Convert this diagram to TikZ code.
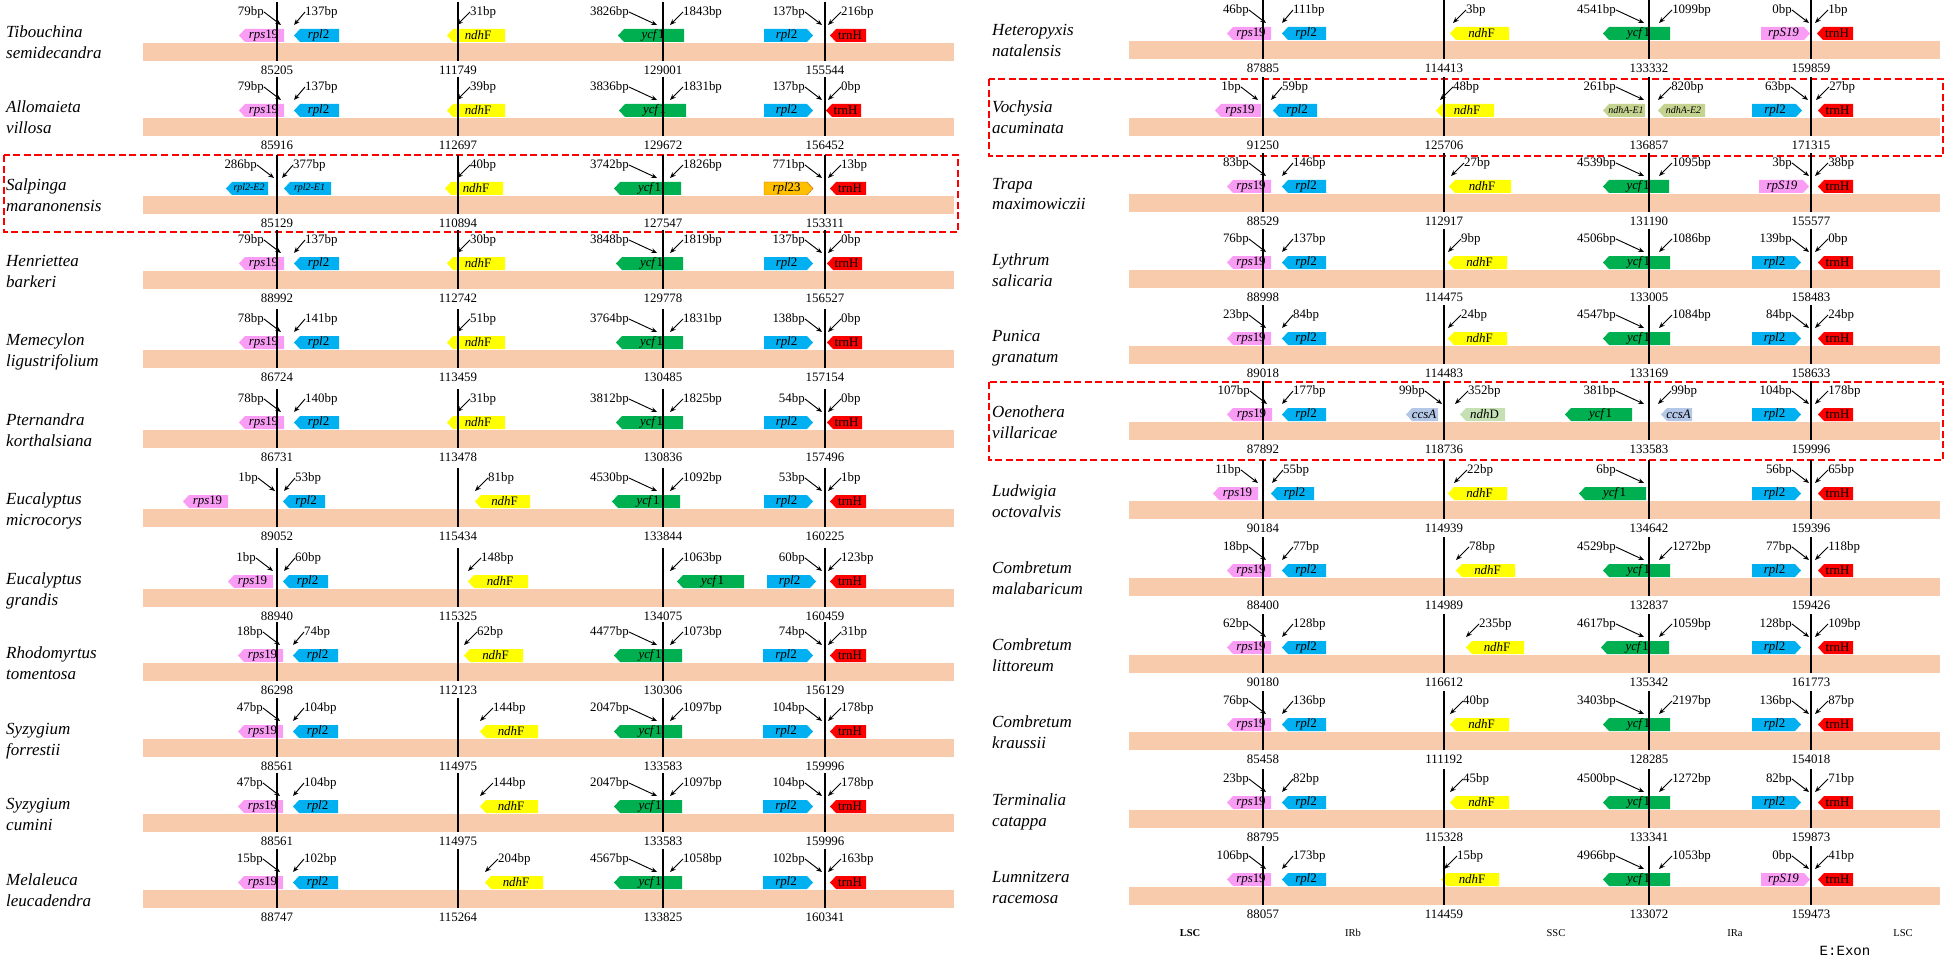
\documentclass[tikz,border=0pt]{standalone}
\usepackage{fontspec}
\setmainfont{Liberation Serif}
\newfontfamily\exonfont{Liberation Mono}
\usetikzlibrary{arrows.meta}

\definecolor{barc}{HTML}{F8CBAD}
\definecolor{rpsc}{HTML}{F99CF4}
\definecolor{rplc}{HTML}{00B0F0}
\definecolor{ndhc}{HTML}{FFFF00}
\definecolor{ycfc}{HTML}{00B050}
\definecolor{trnc}{HTML}{FF0000}
\definecolor{rplxc}{HTML}{FFC000}
\definecolor{ndhac}{HTML}{C4D38F}
\definecolor{ccsc}{HTML}{B4C7E7}
\definecolor{ndhdc}{HTML}{C5E0B4}

\tikzset{
  sp/.style={anchor=base west, inner sep=0pt, font=\fontsize{14.5}{17}\selectfont\itshape},
  num/.style={inner sep=0pt, font=\fontsize{11}{13}\selectfont},
  bplab/.style={inner sep=0pt, font=\fontsize{11}{13}\selectfont},
  glab/.style={inner sep=0pt, font=\fontsize{11}{13}\selectfont},
  smallglab/.style={inner sep=0pt, font=\fontsize{8.5}{10}\selectfont},
  bparr/.style={-{Stealth[length=5pt,width=4pt]}, line width=0.8pt},
  jline/.style={line width=1.7pt},
  hilite/.style={draw=red, line width=1.3pt, dash pattern=on 6pt off 3pt},
  region/.style={inner sep=0pt, font=\fontsize{9}{11}\selectfont},
}

\newcounter{nid}
% gene box pointing left / right: colour, x from, x to, text
\newcommand{\geneL}[5][glab]{\stepcounter{nid}%
  \fill[#2] (#3,35.5) -- (#3+6,29) -- (#4,29) -- (#4,42) -- (#3+6,42) -- cycle;
  \node[#1] (g\thenid) at ({(#3+#4)/2+2},35.5) {#5};}
\newcommand{\geneR}[5][glab]{\stepcounter{nid}%
  \fill[#2] (#3,29) -- (#4-6,29) -- (#4,35.5) -- (#4-6,42) -- (#3,42) -- cycle;
  \node[#1] (g\thenid) at ({(#3+#4)/2-2},35.5) {#5};}
\newcommand{\rps}[2]{\geneL{rpsc}{#1}{#2}{\textit{rps}19}}
\newcommand{\rpl}[2]{\geneL{rplc}{#1}{#2}{\textit{rpl}2}}
\newcommand{\rplr}[2]{\geneR{rplc}{#1}{#2}{\textit{rpl}2}}
\newcommand{\rpsr}[2]{\geneR{rpsc}{#1}{#2}{\textit{rpS19}}}
\newcommand{\ndh}[2]{\geneL{ndhc}{#1}{#2}{\textit{ndh}F}}
\newcommand{\ycf}[2]{\geneL{ycfc}{#1}{#2}{\textit{ycf}1}}
\newcommand{\trn}[2]{\geneL{trnc}{#1}{#2}{trnH}}
% bp label left / right of the arrow tip
\newcommand{\bpl}[3][17]{\stepcounter{nid}%
  \node[bplab, anchor=east] (b\thenid) at (#3-#1,12) {#2};
  \coordinate (t\thenid) at (#3,25);
  \draw[bparr] (b\thenid.east) -- (t\thenid);}
\newcommand{\bpr}[3][13]{\stepcounter{nid}%
  \node[bplab, anchor=west] (b\thenid) at (#3+#1,12) {#2};
  \coordinate (t\thenid) at (#3,25);
  \draw[bparr] (b\thenid.west) -- (t\thenid);}
% bar, junction lines, positions and species name of one genome
\newcommand{\genome}[6]{\stepcounter{nid}%
  \fill[barc] (143,43) rectangle (954,61);
  \node[sp] (s\thenid) at (6,38) {#1};
  \node[sp] (s\thenid b) at (6,59) {#2};
  \foreach \x/\n in {277/#3,458/#4,663/#5,825/#6}{
    \draw[jline] (\x,2) -- (\x,61);
    \node[num] (p\thenid-\x) at (\x,70) {\n};}}

\begin{document}
\begin{tikzpicture}[x=0.03cm, y=-0.03cm]
\useasboundingbox (0,0) rectangle (1946,958);

% left panel
\begin{scope}
\begin{scope}[shift={(0,0)}]
\rps{239}{284}\rpl{294}{339}\ndh{447}{505}\ycf{618}{684}\rplr{764}{813}\trn{830}{866}
\bpl{79bp}{281}\bpr[11]{137bp}{294}\bpr{31bp}{457}\bpl[28]{3826bp}{657}\bpr{1843bp}{670}\bpl{137bp}{822}\bpr{216bp}{828}
\genome{Tibouchina}{semidecandra}{85205}{111749}{129001}{155544}
\end{scope}
\begin{scope}[shift={(0,75)}]
\rps{239}{284}\rpl{294}{339}\ndh{447}{505}\ycf{619}{686}\rplr{764}{813}\trn{826}{861}
\bpl{79bp}{281}\bpr[11]{137bp}{294}\bpr{39bp}{457}\bpl[28]{3836bp}{657}\bpr{1831bp}{670}\bpl{137bp}{822}\bpr{0bp}{828}
\genome{Allomaieta}{villosa}{85916}{112697}{129672}{156452}
\end{scope}
\begin{scope}[shift={(0,153)}]
\draw[hilite] (4,2) rectangle (958,79);
\geneL[smallglab]{rplc}{226}{268}{\textit{rpl2-E2}}\geneL[smallglab]{rplc}{284}{331}{\textit{rpl2-E1}}
\ndh{445}{503}\ycf{614}{681}\geneR{rplxc, draw=orange!80!black}{764}{813}{\textit{rpl}23}\trn{830}{866}
\bpl{286bp}{274}\bpr[11]{377bp}{282}\bpr{40bp}{457}\bpl[28]{3742bp}{657}\bpr{1826bp}{670}\bpl{771bp}{822}\bpr{13bp}{828}
\genome{Salpinga}{maranonensis}{85129}{110894}{127547}{153311}
\end{scope}
\begin{scope}[shift={(0,228)}]
\rps{239}{284}\rpl{294}{339}\ndh{447}{505}\ycf{616}{683}\rplr{764}{813}\trn{827}{862}
\bpl{79bp}{281}\bpr[11]{137bp}{294}\bpr{30bp}{457}\bpl[28]{3848bp}{657}\bpr{1819bp}{670}\bpl{137bp}{822}\bpr{0bp}{828}
\genome{Henriettea}{barkeri}{88992}{112742}{129778}{156527}
\end{scope}
\begin{scope}[shift={(0,307)}]
\rps{239}{284}\rpl{294}{339}\ndh{447}{505}\ycf{616}{683}\rplr{764}{813}\trn{827}{862}
\bpl{78bp}{281}\bpr[11]{141bp}{294}\bpr{51bp}{457}\bpl[28]{3764bp}{657}\bpr{1831bp}{670}\bpl{138bp}{822}\bpr{0bp}{828}
\genome{Memecylon}{ligustrifolium}{86724}{113459}{130485}{157154}
\end{scope}
\begin{scope}[shift={(0,387)}]
\rps{239}{284}\rpl{294}{339}\ndh{447}{505}\ycf{616}{683}\rplr{764}{813}\trn{827}{862}
\bpl{78bp}{281}\bpr[11]{140bp}{294}\bpr{31bp}{457}\bpl[28]{3812bp}{657}\bpr{1825bp}{670}\bpl{54bp}{822}\bpr{0bp}{828}
\genome{Pternandra}{korthalsiana}{86731}{113478}{130836}{157496}
\end{scope}
\begin{scope}[shift={(0,466)}]
\rps{183}{228}\rpl{283}{325}\ndh{475}{530}\ycf{612}{680}\rplr{764}{813}\trn{830}{866}
\bpl{1bp}{275}\bpr[11]{53bp}{284}\bpr{81bp}{475}\bpl[28]{4530bp}{657}\bpr{1092bp}{670}\bpl{53bp}{822}\bpr{1bp}{828}
\genome{Eucalyptus}{microcorys}{89052}{115434}{133844}{160225}
\end{scope}
\begin{scope}[shift={(0,546)}]
\rps{228}{273}\rpl{283}{328}\ndh{468}{528}\ycf{677}{744}\rplr{767}{816}\trn{830}{866}
\bpl{1bp}{273}\bpr[11]{60bp}{284}\bpr{148bp}{468}\bpr{1063bp}{670}\bpl{60bp}{822}\bpr{123bp}{828}
\genome{Eucalyptus}{grandis}{88940}{115325}{134075}{160459}
\end{scope}
\begin{scope}[shift={(0,620)}]
\rps{238}{283}\rpl{293}{338}\ndh{464}{523}\ycf{614}{682}\rplr{763}{813}\trn{830}{866}
\bpl{18bp}{280}\bpr[11]{74bp}{293}\bpr{62bp}{464}\bpl[28]{4477bp}{657}\bpr{1073bp}{670}\bpl{74bp}{822}\bpr{31bp}{828}
\genome{Rhodomyrtus}{tomentosa}{86298}{112123}{130306}{156129}
\end{scope}
\begin{scope}[shift={(0,696)}]
\rps{238}{283}\rpl{293}{338}\ndh{480}{538}\ycf{614}{682}\rplr{763}{813}\trn{830}{866}
\bpl{47bp}{280}\bpr[11]{104bp}{293}\bpr{144bp}{480}\bpl[28]{2047bp}{657}\bpr{1097bp}{670}\bpl{104bp}{822}\bpr{178bp}{828}
\genome{Syzygium}{forrestii}{88561}{114975}{133583}{159996}
\end{scope}
\begin{scope}[shift={(0,771)}]
\rps{238}{283}\rpl{293}{338}\ndh{480}{538}\ycf{614}{682}\rplr{763}{813}\trn{830}{866}
\bpl{47bp}{280}\bpr[11]{104bp}{293}\bpr{144bp}{480}\bpl[28]{2047bp}{657}\bpr{1097bp}{670}\bpl{104bp}{822}\bpr{178bp}{828}
\genome{Syzygium}{cumini}{88561}{114975}{133583}{159996}
\end{scope}
\begin{scope}[shift={(0,847)}]
\rps{238}{283}\rpl{293}{338}\ndh{485}{543}\ycf{614}{682}\rplr{763}{813}\trn{830}{866}
\bpl{15bp}{280}\bpr[11]{102bp}{293}\bpr{204bp}{485}\bpl[28]{4567bp}{657}\bpr{1058bp}{670}\bpl{102bp}{822}\bpr{163bp}{828}
\genome{Melaleuca}{leucadendra}{88747}{115264}{133825}{160341}
\end{scope}
\end{scope}

% right panel
\begin{scope}[shift={(986,0)}]
\begin{scope}[shift={(0,-2)}]
\rps{241}{285}\rpl{296}{340}\ndh{464}{523}\ycf{617}{684}\rpsr{775}{824}\trn{831}{867}
\bpl{46bp}{280}\bpr[11]{111bp}{296}\bpr{3bp}{467}\bpl[28]{4541bp}{658}\bpr{1099bp}{673}\bpl{0bp}{823}\bpr{1bp}{829}
\genome{Heteropyxis}{natalensis}{87885}{114413}{133332}{159859}
\end{scope}
\begin{scope}[shift={(0,75)}]
\draw[hilite] (3,4) rectangle (957,81);
\rps{229}{275}\rpl{287}{331}\ndh{450}{508}
\geneL[smallglab]{ndhac}{617}{659}{\textit{ndhA-E1}}\geneL[smallglab]{ndhac}{672}{719}{\textit{ndhA-E2}}
\rplr{766}{816}\trn{832}{867}
\bpl{1bp}{272}\bpr[11]{59bp}{285}\bpr{48bp}{454}\bpl[28]{261bp}{658}\bpr{820bp}{672}\bpl{63bp}{822}\bpr{27bp}{830}
\genome{Vochysia}{acuminata}{91250}{125706}{136857}{171315}
\end{scope}
\begin{scope}[shift={(0,151)}]
\rps{241}{285}\rpl{296}{340}\ndh{463}{525}\ycf{617}{683}\rpsr{773}{823}\trn{832}{867}
\bpl{83bp}{280}\bpr[11]{146bp}{296}\bpr{27bp}{465}\bpl[28]{4539bp}{658}\bpr{1095bp}{673}\bpl{3bp}{823}\bpr{38bp}{829}
\genome{Trapa}{maximowiczii}{88529}{112917}{131190}{155577}
\end{scope}
\begin{scope}[shift={(0,227)}]
\rps{241}{285}\rpl{296}{340}\ndh{462}{521}\ycf{617}{684}\rplr{766}{815}\trn{832}{867}
\bpl{76bp}{280}\bpr[11]{137bp}{296}\bpr{9bp}{462}\bpl[28]{4506bp}{658}\bpr{1086bp}{673}\bpl{139bp}{823}\bpr{0bp}{829}
\genome{Lythrum}{salicaria}{88998}{114475}{133005}{158483}
\end{scope}
\begin{scope}[shift={(0,303)}]
\rps{241}{285}\rpl{296}{340}\ndh{462}{521}\ycf{617}{684}\rplr{766}{815}\trn{832}{867}
\bpl{23bp}{280}\bpr[11]{84bp}{296}\bpr{24bp}{462}\bpl[28]{4547bp}{658}\bpr{1084bp}{673}\bpl{84bp}{823}\bpr{24bp}{829}
\genome{Punica}{granatum}{89018}{114483}{133169}{158633}
\end{scope}
\begin{scope}[shift={(0,379)}]
\draw[hilite] (3,3) rectangle (957,81);
\rps{241}{286}\rpl{296}{340}\geneL{ccsc}{420}{452}{\textit{ccsA}}\geneL{ndhdc}{474}{519}{\textit{ndh}D}
\ycf{579}{646}\geneL{ccsc}{675}{706}{\textit{ccsA}}\rplr{766}{815}\trn{832}{867}
\bpl{107bp}{281}\bpr[11]{177bp}{296}\bpl{99bp}{456}\bpr{352bp}{469}\bpl[28]{381bp}{658}\bpr{99bp}{672}\bpl{104bp}{823}\bpr{178bp}{829}
\genome{Oenothera}{villaricae}{87892}{118736}{133583}{159996}
\end{scope}
\begin{scope}[shift={(0,458)}]
\rps{227}{272}\rpl{285}{328}\ndh{462}{521}\ycf{593}{660}\rplr{766}{815}\trn{832}{867}
\bpl{11bp}{272}\bpr[11]{55bp}{286}\bpr{22bp}{468}\bpl[28]{6bp}{658}\bpl{56bp}{823}\bpr{65bp}{829}
\genome{Ludwigia}{octovalvis}{90184}{114939}{134642}{159396}
\end{scope}
\begin{scope}[shift={(0,535)}]
\rps{241}{285}\rpl{296}{340}\ndh{470}{529}\ycf{617}{684}\rplr{766}{815}\trn{832}{867}
\bpl{18bp}{280}\bpr[11]{77bp}{296}\bpr{78bp}{470}\bpl[28]{4529bp}{658}\bpr{1272bp}{673}\bpl{77bp}{823}\bpr{118bp}{829}
\genome{Combretum}{malabaricum}{88400}{114989}{132837}{159426}
\end{scope}
\begin{scope}[shift={(0,612)}]
\rps{241}{285}\rpl{296}{340}\ndh{480}{538}\ycf{615}{683}\rplr{766}{815}\trn{832}{867}
\bpl{62bp}{280}\bpr[11]{128bp}{296}\bpr{235bp}{480}\bpl[28]{4617bp}{658}\bpr{1059bp}{673}\bpl{128bp}{823}\bpr{109bp}{829}
\genome{Combretum}{littoreum}{90180}{116612}{135342}{161773}
\end{scope}
\begin{scope}[shift={(0,689)}]
\rps{241}{285}\rpl{296}{340}\ndh{464}{523}\ycf{617}{684}\rplr{766}{815}\trn{832}{867}
\bpl{76bp}{280}\bpr[11]{136bp}{296}\bpr{40bp}{464}\bpl[28]{3403bp}{658}\bpr{2197bp}{673}\bpl{136bp}{823}\bpr{87bp}{829}
\genome{Combretum}{kraussii}{85458}{111192}{128285}{154018}
\end{scope}
\begin{scope}[shift={(0,767)}]
\rps{241}{285}\rpl{296}{340}\ndh{464}{523}\ycf{617}{684}\rplr{766}{815}\trn{832}{867}
\bpl{23bp}{280}\bpr[11]{82bp}{296}\bpr{45bp}{464}\bpl[28]{4500bp}{658}\bpr{1272bp}{673}\bpl{82bp}{823}\bpr{71bp}{829}
\genome{Terminalia}{catappa}{88795}{115328}{133341}{159873}
\end{scope}
\begin{scope}[shift={(0,844)}]
\rps{241}{285}\rpl{296}{340}\ndh{455}{513}\ycf{617}{684}\rpsr{775}{824}\trn{832}{867}
\bpl{106bp}{280}\bpr[11]{173bp}{296}\bpr{15bp}{458}\bpl[28]{4966bp}{658}\bpr{1053bp}{673}\bpl{0bp}{823}\bpr{41bp}{829}
\genome{Lumnitzera}{racemosa}{88057}{114459}{133072}{159473}
\end{scope}
\end{scope}

% regions and legend
\node[region, font=\fontsize{9}{11}\selectfont\bfseries] (lsca) at (1190,933) {LSC};
\node[region] (irb) at (1353,933) {IRb};
\node[region] (ssc) at (1556,933) {SSC};
\node[region] (ira) at (1735,933) {IRa};
\node[region] (lscb) at (1903,933) {LSC};
\node[region, font=\fontsize{12}{14}\selectfont\exonfont] (exon) at (1845,951) {E:Exon};
\end{tikzpicture}
\end{document}
